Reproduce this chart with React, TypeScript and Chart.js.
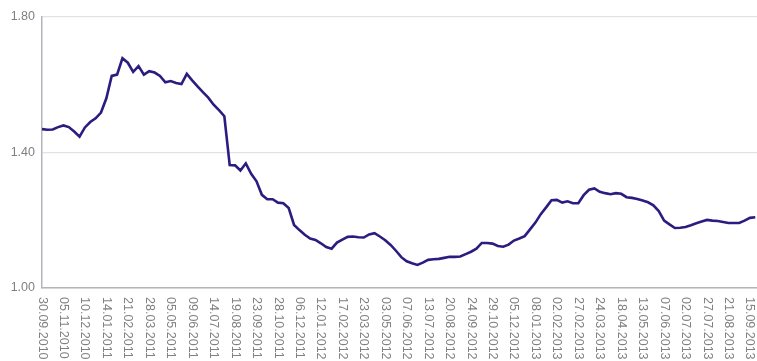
import React, { useEffect, useRef } from "react";
import { Chart, registerables } from "chart.js";

Chart.register(...registerables);

const tickLabels: string[] = [
  "30.09.2010", "05.11.2010", "10.12.2010", "14.01.2011", "21.02.2011", "28.03.2011",
  "05.05.2011", "09.06.2011", "14.07.2011", "19.08.2011", "23.09.2011", "28.10.2011",
  "06.12.2011", "12.01.2012", "17.02.2012", "23.03.2012", "03.05.2012", "07.06.2012",
  "13.07.2012", "20.08.2012", "24.09.2012", "29.10.2012", "05.12.2012", "08.01.2013",
  "02.02.2013", "27.02.2013", "24.03.2013", "18.04.2013", "13.05.2013", "07.06.2013",
  "02.07.2013", "27.07.2013", "21.08.2013", "15.09.2013",
];

// samples per interval between two consecutive tick labels
const samplesPerTick = 4;

const rateValues: number[] = [
  1.469, 1.467, 1.468, 1.475, 1.480, 1.475, 1.462, 1.447, 1.474, 1.490,
  1.501, 1.518, 1.560, 1.626, 1.630, 1.678, 1.665, 1.638, 1.655, 1.630,
  1.640, 1.636, 1.626, 1.607, 1.611, 1.605, 1.602, 1.632, 1.613, 1.595,
  1.578, 1.562, 1.541, 1.525, 1.507, 1.363, 1.362, 1.347, 1.368, 1.337,
  1.315, 1.275, 1.262, 1.262, 1.252, 1.250, 1.236, 1.186, 1.171, 1.157,
  1.146, 1.142, 1.132, 1.121, 1.116, 1.134, 1.143, 1.151, 1.152, 1.150,
  1.149, 1.158, 1.162, 1.152, 1.141, 1.127, 1.110, 1.091, 1.079, 1.073,
  1.068, 1.075, 1.083, 1.085, 1.086, 1.089, 1.092, 1.092, 1.093, 1.100,
  1.107, 1.116, 1.133, 1.133, 1.131, 1.124, 1.122, 1.128, 1.140, 1.146,
  1.153, 1.173, 1.193, 1.218, 1.238, 1.259, 1.260, 1.252, 1.256, 1.250,
  1.250, 1.274, 1.290, 1.294, 1.284, 1.280, 1.277, 1.280, 1.278, 1.268,
  1.266, 1.263, 1.258, 1.253, 1.244, 1.227, 1.199, 1.188, 1.177, 1.178,
  1.180, 1.185, 1.191, 1.196, 1.201, 1.199, 1.198, 1.195, 1.192, 1.192,
  1.192, 1.199, 1.207, 1.209,
];

const yTickValues: number[] = [1.0, 1.4, 1.8];

const FONT = "'Liberation Sans', Arial, sans-serif";
const TEXT_COLOR = "#808080";

const rotatedLabelsPlugin = {
  id: "rotatedLabels",
  afterDraw(chart: any) {
    const xs = chart.scales.x;
    const ctx = chart.ctx;
    ctx.save();
    ctx.fillStyle = TEXT_COLOR;
    ctx.font = `12.5px ${FONT}`;
    ctx.textAlign = "left";
    ctx.textBaseline = "middle";
    tickLabels.forEach((lab, i) => {
      const px = xs.getPixelForValue(i);
      ctx.save();
      ctx.translate(px, xs.top + 9);
      ctx.rotate(Math.PI / 2);
      ctx.fillText(lab, 0, 0);
      ctx.restore();
    });
    ctx.restore();
  },
};

export default function App() {
  const ref = useRef<HTMLCanvasElement | null>(null);
  useEffect(() => {
    document.body.style.margin = "0";
    if (!ref.current) return;
    const points = rateValues.map((v, k) => ({ x: k / samplesPerTick, y: v }));
    const chart = new Chart(ref.current, {
      type: "line",
      data: {
        datasets: [
          {
            data: points,
            borderColor: "#2c1c80",
            borderWidth: 2.6,
            pointRadius: 0,
            tension: 0,
            fill: false,
          },
        ],
      },
      options: {
        animation: false,
        responsive: false,
        devicePixelRatio: 1,
        layout: { padding: { top: 17, right: 0, left: 0, bottom: 0 } },
        plugins: { legend: { display: false }, tooltip: { enabled: false } },
        scales: {
          x: {
            type: "linear",
            min: 0,
            max: 33.33,
            ticks: { display: false },
            grid: { display: false },
            border: { display: true, color: "#b4b4bc", width: 1.5 },
            afterFit: (s: any) => {
              s.height = 73;
            },
          },
          y: {
            min: 1.0,
            max: 1.8,
            afterBuildTicks: (s: any) => {
              s.ticks = yTickValues.map((v) => ({ value: v }));
            },
            ticks: {
              color: TEXT_COLOR,
              font: { family: FONT, size: 12.5 },
              padding: 7,
              callback: (v: any) => Number(v).toFixed(2),
            },
            grid: { color: "#e2e2e6", drawTicks: false, lineWidth: 1.2 },
            border: { display: true, color: "#b4b4bc", width: 1.5 },
            afterFit: (s: any) => {
              s.width = 42;
            },
          },
        },
      },
      plugins: [rotatedLabelsPlugin],
    });
    return () => chart.destroy();
  }, []);
  return <canvas ref={ref} width={757} height={361} style={{ display: "block" }} />;
}
